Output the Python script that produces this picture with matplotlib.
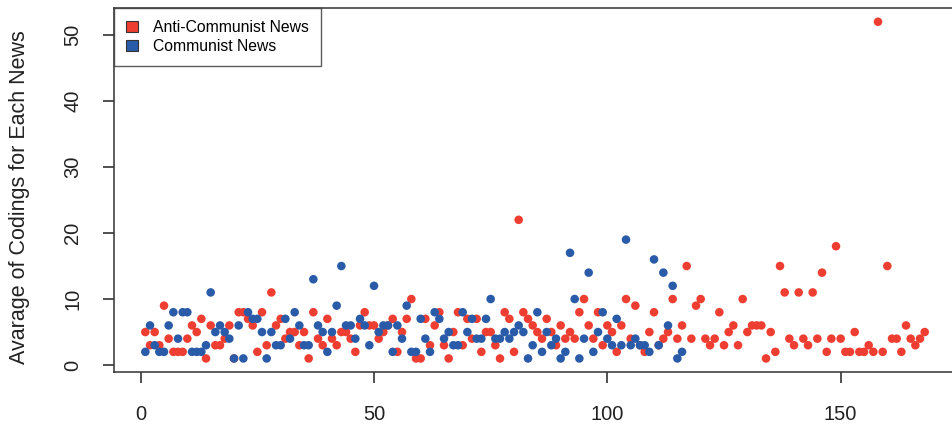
import matplotlib
matplotlib.use("Agg")
import matplotlib.pyplot as plt
from matplotlib.patches import Patch

plt.rcParams['font.family'] = ['Liberation Sans', 'DejaVu Sans']

anti_communist = [5, 3, 5, 3, 9, 4, 2, 2, 2, 4, 6, 5, 7, 1, 6, 3, 3, 4, 6, 1,
                  8, 8, 7, 6, 2, 8, 3, 11, 6, 7, 4, 5, 5, 3, 5, 1, 8, 4, 3, 7,
                  4, 3, 5, 5, 4, 2, 6, 8, 6, 6, 4, 5, 6, 7, 2, 5, 7, 10, 1, 1,
                  7, 3, 6, 8, 3, 1, 5, 8, 3, 7, 4, 7, 2, 5, 5, 3, 1, 8, 7, 2,
                  22, 8, 7, 6, 5, 4, 7, 5, 3, 6, 4, 5, 4, 8, 10, 6, 4, 8, 3, 6,
                  5, 2, 6, 10, 4, 9, 3, 2, 5, 8, 3, 4, 5, 10, 4, 6, 15, 4, 9, 10,
                  4, 3, 4, 8, 3, 5, 6, 3, 10, 5, 6, 6, 6, 1, 5, 2, 15, 11, 4, 3,
                  11, 4, 3, 11, 4, 14, 2, 4, 18, 4, 2, 2, 5, 2, 2, 3, 2, 52, 2, 15,
                  4, 4, 2, 6, 4, 3, 4, 5]
communist = [2, 6, 3, 2, 2, 6, 8, 4, 8, 8, 2, 2, 2, 3, 11, 5, 6, 5, 4, 1,
             6, 1, 8, 7, 7, 5, 1, 5, 3, 3, 7, 4, 8, 6, 3, 3, 13, 6, 5, 2,
             5, 9, 15, 6, 6, 4, 7, 6, 3, 12, 5, 6, 6, 2, 6, 4, 9, 2, 2, 7,
             4, 2, 8, 7, 4, 5, 3, 3, 8, 5, 7, 4, 4, 7, 10, 4, 4, 5, 4, 5,
             6, 5, 1, 3, 8, 2, 5, 3, 4, 1, 2, 17, 10, 1, 4, 14, 2, 5, 8, 4,
             3, 7, 3, 19, 3, 4, 3, 3, 2, 16, 3, 14, 6, 12, 1, 2]
labels = ["Anti-Communist News", "Communist News"]
colors = ["#EE3E32", "#2A5BA8"]

x_anti = list(range(1, len(anti_communist) + 1))
x_comm = list(range(1, len(communist) + 1))

fig = plt.figure(figsize=(9.53, 4.25), dpi=100)
ax = fig.add_axes([0.1198, 0.1249, 0.8832, 0.8556])

ax.scatter(x_anti, anti_communist, s=38, color=colors[0], edgecolors='none', zorder=2)
ax.scatter(x_comm, communist, s=38, color=colors[1], edgecolors='none', zorder=3)

ax.set_xlim(-5.68, 174.68)
ax.set_ylim(-1.04, 54.04)
ax.set_xticks([0, 50, 100, 150])
ax.set_yticks([0, 10, 20, 30, 40, 50])
ax.tick_params(axis='both', direction='out', length=8, width=1.1, labelsize=14.5,
               color='#222222', labelcolor='#222222')
ax.tick_params(axis='x', pad=16)
ax.tick_params(axis='y', pad=15)
for lab in ax.get_yticklabels():
    lab.set_rotation(90)
    lab.set_va('center')
for sp in ax.spines.values():
    sp.set_linewidth(1.1)
    sp.set_color('#333333')

ax.set_ylabel("Avarage of Codings for Each News", fontsize=15.5, color='#222222', labelpad=24)
ax.yaxis.label.set_y(0.48)

handles = [Patch(facecolor=colors[0], edgecolor='#333333', linewidth=0.8),
           Patch(facecolor=colors[1], edgecolor='#333333', linewidth=0.8)]
leg = ax.legend(handles, labels, loc='upper left', borderaxespad=0, fontsize=11.3,
                frameon=True, fancybox=False, handlelength=0.75, handleheight=0.75,
                handletextpad=1.0, borderpad=0.75, labelspacing=0.25)
leg.get_frame().set_edgecolor('#333333')
leg.get_frame().set_linewidth(1.0)

fig.savefig("out.png", dpi=100)
